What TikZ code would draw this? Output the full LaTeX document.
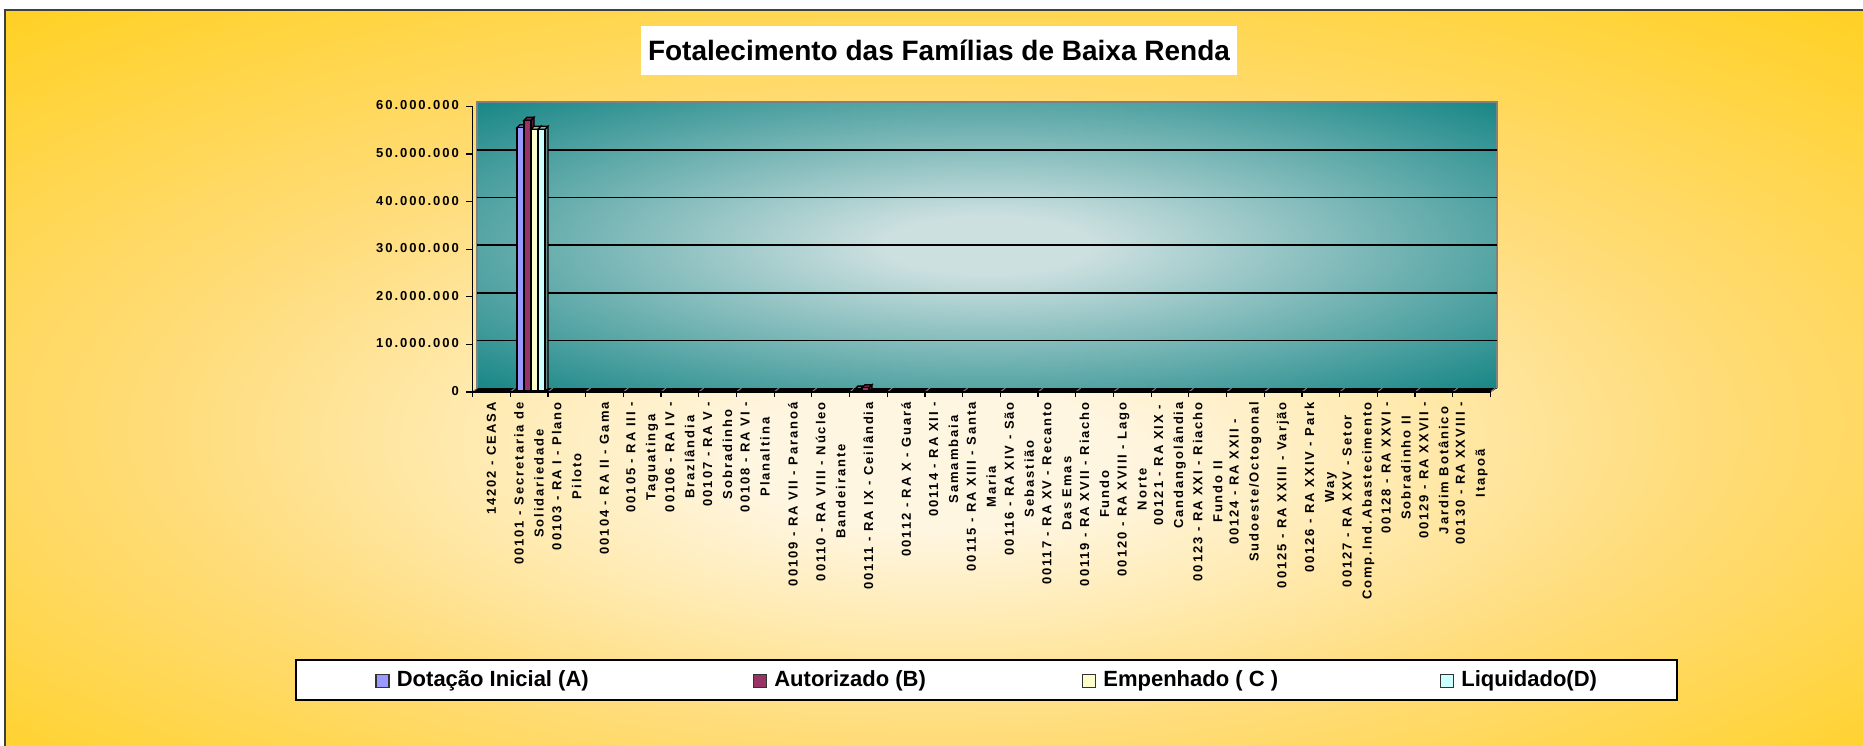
\documentclass[tikz,border=0pt]{standalone}
\usepackage{fontspec}
\setmainfont{Liberation Sans}
\newfontfamily\ticksfont{Liberation Sans}[LetterSpace=15]
\usetikzlibrary{positioning}
\definecolor{goldedge}{RGB}{255,204,0}
\definecolor{goldmid}{RGB}{255,220,120}
\definecolor{creamcore}{RGB}{255,246,225}
\definecolor{tealedge}{RGB}{8,126,126}
\definecolor{tealcore}{RGB}{205,224,224}
\definecolor{dotacao}{RGB}{153,153,255}
\definecolor{autorizado}{RGB}{153,51,102}
\definecolor{empenhado}{RGB}{255,255,204}
\definecolor{liquidado}{RGB}{204,255,255}
\pgfdeclareradialshading{goldglow}{\pgfpoint{0bp}{-6bp}}{color(0bp)=(creamcore); color(5bp)=(creamcore); color(21bp)=(goldmid); color(43bp)=(goldedge); color(50bp)=(goldedge)}
\pgfdeclareradialshading{tealglow}{\pgfpoint{0bp}{0bp}}{color(0bp)=(tealcore); color(5bp)=(tealcore); color(38bp)=(tealedge); color(50bp)=(tealedge)}

\begin{document}
\begin{tikzpicture}[x=1pt,y=-1pt,
    ticklabel/.style={font=\ticksfont\bfseries\fontsize{13}{20}\selectfont, inner sep=0pt},
    catlabel/.style={ticklabel, rotate=90, anchor=east, align=center},
    keybox/.style={draw=black!80, line width=1.3pt, minimum size=13pt, inner sep=0pt},
    keytext/.style={font=\bfseries\fontsize{22}{24}\selectfont, inner sep=0pt}]
    \useasboundingbox (0,0) rectangle (1863,746);
    \fill[white] (0,0) rectangle (1863,746);
    \shade[shading=goldglow] (5,10) rectangle (1863,746);
    \draw[black!75, line width=2pt] (5,746) |- (1863,10);

    \node[fill=white, minimum width=596pt, minimum height=49pt, font=\bfseries\fontsize{28}{30}\selectfont] (title) at (939,50.5) {Fotalecimento das Famílias de Baixa Renda};

    \coordinate (origin) at (472.5,392);
    \coordinate (xend) at (1491,392);
    \coordinate (ytop) at (472.5,106);
    \shade[shading=tealglow] (477,102) rectangle (1497,388);
    \draw[gray, line width=1.2pt] (477,388) |- (1497,102) -- (1497,388);
    \foreach \k in {1,...,5}
        \draw[black, line width=1.6pt] (477,388-47.6*\k) -- (1497,388-47.6*\k);
    \fill[black] (origin) -- (xend) -- (1497,388) -- (477,388) -- cycle;
    \foreach \i in {0,...,27}
        \draw[gray, line width=1pt] (472.5+37.7*\i,392) -- ++(5,-4);

    \foreach \x/\v/\c in {517/55.5/dotacao, 524/57.1/autorizado, 531/55.2/empenhado, 538/55.2/liquidado, 855/0.6/dotacao, 862/0.9/autorizado} {
        \filldraw[fill=\c!55!black, line width=1.3pt] (\x+7,392-4.76*\v) -- ++(3,-3) -- (\x+10,389) -- (\x+7,391) -- cycle;
        \filldraw[fill=\c!70!black, line width=1.3pt] (\x,392-4.76*\v) -- ++(3,-3) -- ++(7,0) -- ++(-3,3) -- cycle;
        \filldraw[fill=\c, line width=1.3pt] (\x,391) rectangle (\x+7,392-4.76*\v);
    }

    \draw[black, line width=1.4pt] (ytop) -- (origin) -- (xend);
    \foreach \k/\lab in {0/0, 1/10.000.000, 2/20.000.000, 3/30.000.000, 4/40.000.000, 5/50.000.000, 6/60.000.000} {
        \draw[black, line width=1.2pt] (466,392-47.6*\k) -- (472.5,392-47.6*\k);
        \node[ticklabel, anchor=east] (ytick\k) at (459,391-47.6*\k) {\lab};
    }
    \foreach \i in {0,...,27}
        \draw[black, line width=1.2pt] (472.5+37.7*\i,392) -- ++(0,5);

    \foreach \i/\txt in {1/{14202 - CEASA}, 2/{00101 - Secretaria de\\Solidariedade}, 3/{00103 - RA I - Plano\\Piloto}, 4/{00104 - RA II - Gama}, 5/{00105 - RA III -\\Taguatinga}, 6/{00106 - RA IV -\\Brazlândia}, 7/{00107 - RA V -\\Sobradinho}, 8/{00108 - RA VI -\\Planaltina}, 9/{00109 - RA VII - Paranoá}, 10/{00110 - RA VIII - Núcleo\\Bandeirante}, 11/{00111 - RA IX - Ceilândia}, 12/{00112 - RA X - Guará}, 13/{00114 - RA XII -\\Samambaia}, 14/{00115 - RA XIII - Santa\\Maria}, 15/{00116 - RA XIV - São\\Sebastião}, 16/{00117 - RA XV - Recanto\\Das Emas}, 17/{00119 - RA XVII - Riacho\\Fundo}, 18/{00120 - RA XVIII - Lago\\Norte}, 19/{00121 - RA XIX -\\Candangolândia}, 20/{00123 - RA XXI - Riacho\\Fundo II}, 21/{00124 - RA XXII -\\Sudoeste/Octogonal}, 22/{00125 - RA XXIII - Varjão}, 23/{00126 - RA XXIV - Park\\Way}, 24/{00127 - RA XXV - Setor\\Comp.Ind.Abastecimento}, 25/{00128 - RA XXVI -\\Sobradinho II}, 26/{00129 - RA XXVII -\\Jardim Botânico}, 27/{00130 - RA XXVIII -\\Itapoã}}
        \node[catlabel] (cat\i) at (472.5+37.7*\i-18.85,402) {\txt};

    \node[draw=black, line width=2pt, fill=white, minimum width=1381pt, minimum height=40pt] (legend) at (986.5,680) {};
    \node[keybox, fill=dotacao] (keyA) at (382.5,681) {};
    \node[keytext, right=7pt of keyA] (labA) {Dotação Inicial (A)};
    \node[keybox, fill=autorizado] (keyB) at (760,681) {};
    \node[keytext, right=7pt of keyB] (labB) {Autorizado (B)};
    \node[keybox, fill=empenhado] (keyC) at (1089,681) {};
    \node[keytext, right=7pt of keyC] (labC) {Empenhado ( C )};
    \node[keybox, fill=liquidado] (keyD) at (1447,681) {};
    \node[keytext, right=7pt of keyD] (labD) {Liquidado(D)};
\end{tikzpicture}
\end{document}
